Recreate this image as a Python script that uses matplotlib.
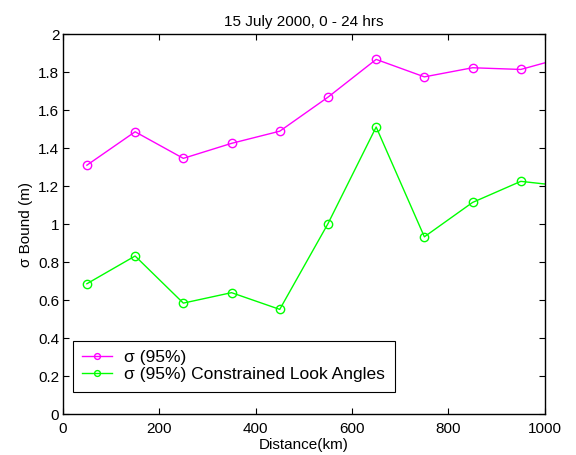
import matplotlib.pyplot as plt

plt.rcParams['font.family'] = ['Liberation Sans', 'DejaVu Sans']

# Data
distance = [50, 150, 250, 350, 450, 550, 650, 750, 850, 950, 1050]
sigma_95 = [1.31, 1.486, 1.346, 1.425, 1.489, 1.668, 1.867, 1.775, 1.823, 1.814, 1.884]
sigma_constrained = [0.686, 0.832, 0.584, 0.639, 0.551, 1.002, 1.511, 0.933, 1.114, 1.225, 1.197]

fig = plt.figure(figsize=(5.76, 4.55), dpi=100)
ax = fig.add_axes([0.109, 0.090, 0.837, 0.835])

ax.plot(distance, sigma_95, color='#ff00ff', marker='o', markerfacecolor='none',
        markersize=6, linewidth=1, label='σ (95%)')
ax.plot(distance, sigma_constrained, color='#00ff00', marker='o', markerfacecolor='none',
        markersize=6, linewidth=1, label='σ (95%) Constrained Look Angles')

ax.set_xlim(0, 1000)
ax.set_ylim(0, 2)
ax.set_xticks([0, 200, 400, 600, 800, 1000])
ax.set_yticks([0, 0.2, 0.4, 0.6, 0.8, 1, 1.2, 1.4, 1.6, 1.8, 2])
ax.set_yticklabels(['0', '0.2', '0.4', '0.6', '0.8', '1', '1.2', '1.4', '1.6', '1.8', '2'])
ax.tick_params(direction='in', top=True, right=True, labelsize=11, length=4, width=0.8)
ax.tick_params(axis='x', pad=6)
ax.tick_params(axis='y', pad=2.5)
for s in ax.spines.values():
    s.set_linewidth(1)

ax.set_title('15 July 2000, 0 - 24 hrs', fontsize=11, pad=6)
ax.set_xlabel('Distance(km)', fontsize=11, labelpad=1.5)
ax.set_ylabel('σ Bound (m)', fontsize=11, labelpad=4)

leg = ax.legend(loc='lower left', bbox_to_anchor=(0.021, 0.058), fontsize=12.5,
                fancybox=False, edgecolor='black', framealpha=1, handlelength=1.7,
                handletextpad=0.7, borderpad=0.55, labelspacing=0.12,
                borderaxespad=0, markerscale=0.7)
leg.get_frame().set_linewidth(0.8)

fig.savefig('out.png', dpi=100)
